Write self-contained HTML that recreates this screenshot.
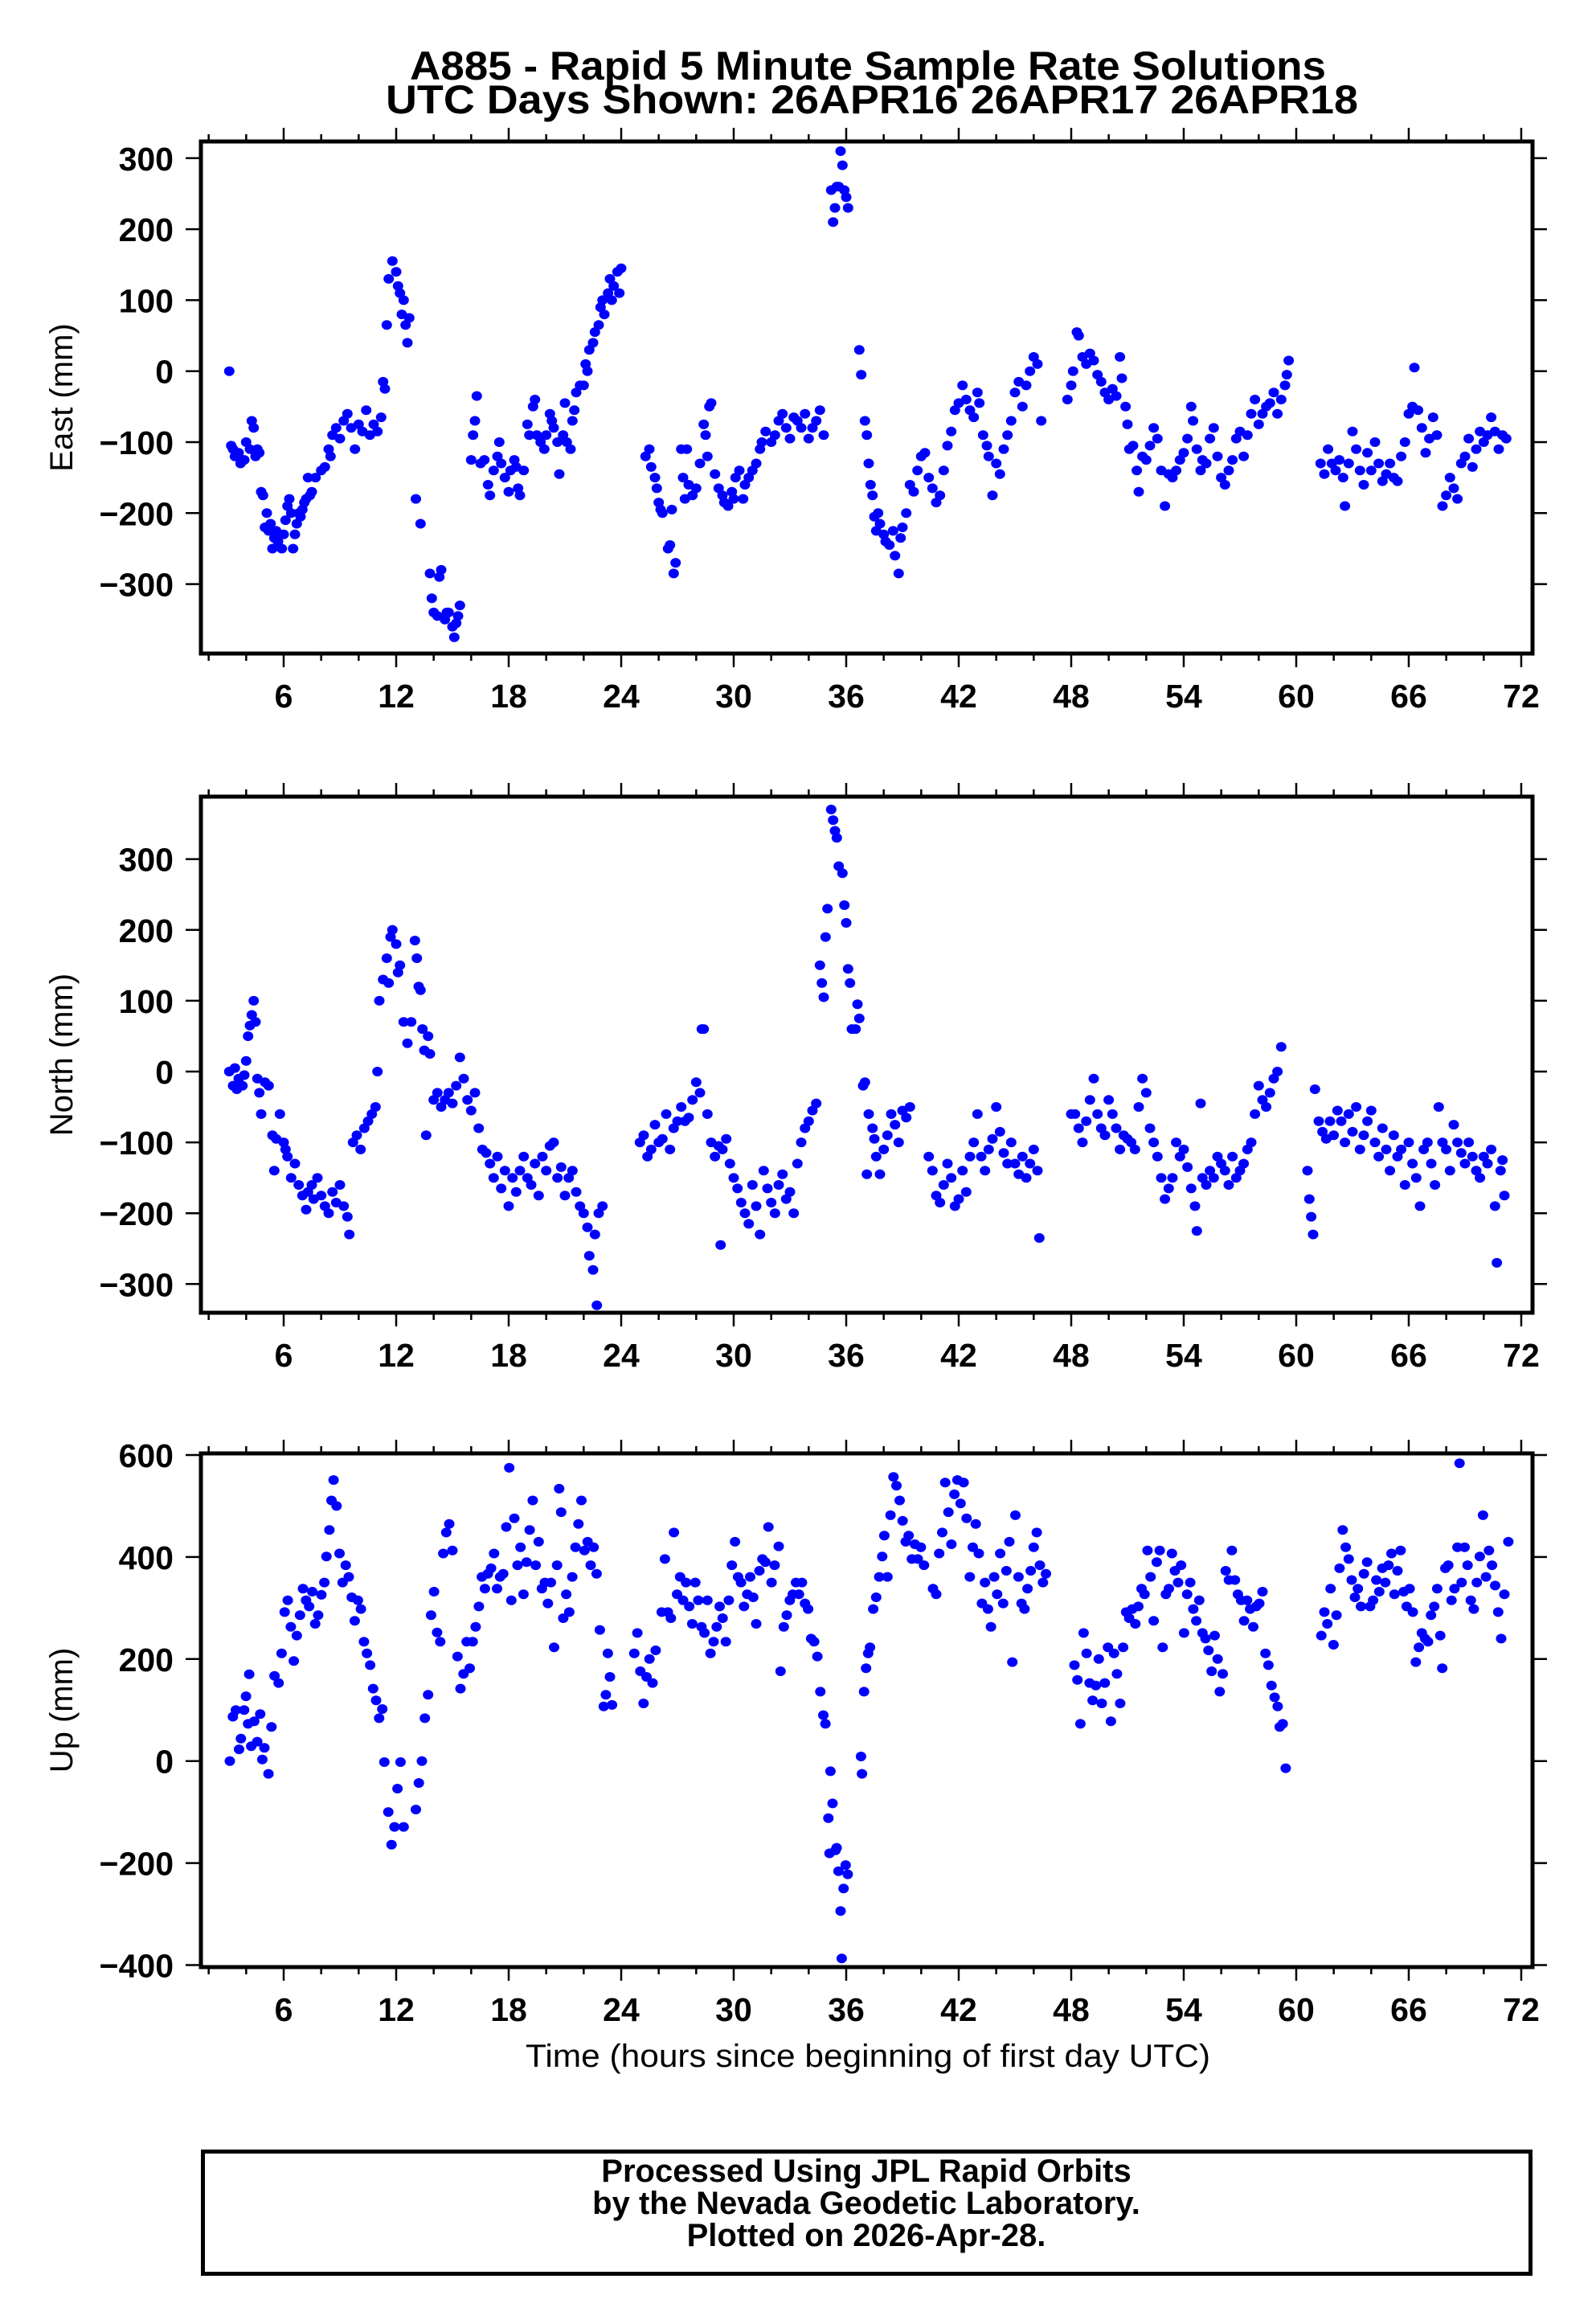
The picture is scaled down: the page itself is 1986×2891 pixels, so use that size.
<!DOCTYPE html>
<html><head><meta charset="utf-8"><style>
html,body{margin:0;padding:0;background:#fff;}
svg{display:block;}
text{font-family:"Liberation Sans",Arial,sans-serif;fill:#000;}
</style></head><body>
<svg id="chart" width="1986" height="2891" viewBox="0 0 1986 2891" xmlns="http://www.w3.org/2000/svg">
<text x="1080" y="99" text-anchor="middle" font-size="50" font-weight="bold" textLength="1140" lengthAdjust="spacingAndGlyphs">A885 - Rapid 5 Minute Sample Rate Solutions</text>
<text x="1085" y="141" text-anchor="middle" font-size="50" font-weight="bold" textLength="1210" lengthAdjust="spacingAndGlyphs">UTC Days Shown:  26APR16 26APR17 26APR18</text>
<g id="plots"></g>
<text x="1080" y="2571" text-anchor="middle" font-size="40" textLength="852" lengthAdjust="spacingAndGlyphs">Time (hours since beginning of first day UTC)</text>
<rect x="252.5" y="2676.5" width="1652" height="152" fill="none" stroke="#000" stroke-width="5"/>
<text x="1078" y="2714" text-anchor="middle" font-size="40" font-weight="bold">Processed Using JPL Rapid Orbits</text>
<text x="1078" y="2754" text-anchor="middle" font-size="40" font-weight="bold">by the Nevada Geodetic Laboratory.</text>
<text x="1078" y="2794" text-anchor="middle" font-size="40" font-weight="bold">Plotted on 2026-Apr-28.</text>
</svg>
<script>
const xTicks = [6,12,18,24,30,36,42,48,54,60,66,72];
const eastTicks = [300,200,100,0,-100,-200,-300];
const northTicks = [300,200,100,0,-100,-200,-300];
const upTicks = [600,400,200,0,-200,-400];

const eastHours = [3.1,3.2,3.3,3.4,3.6,3.7,3.9,4.0,4.2,4.3,4.4,4.5,4.6,4.7,4.8,4.9,5.0,5.1,5.2,5.3,5.4,5.5,5.6,5.7,5.8,5.9,6.0,6.1,6.2,6.3,6.4,6.5,6.6,6.7,6.8,6.9,7.0,7.1,7.2,7.3,7.4,7.5,7.7,8.0,8.2,8.4,8.5,8.6,8.8,9.0,9.2,9.4,9.6,9.8,10.0,10.2,10.4,10.6,10.8,11.0,11.2,11.3,11.4,11.5,11.6,11.8,12.0,12.1,12.2,12.3,12.4,12.5,12.6,12.7,
13.05,13.3,13.8,13.9,14.0,14.2,14.3,14.4,14.6,14.7,14.8,15.0,15.1,15.2,15.3,15.4,
16.0,16.1,16.2,16.3,16.5,16.7,16.9,17.0,17.2,17.4,17.5,17.6,17.8,18.0,18.1,18.3,18.4,18.5,18.6,18.8,19.0,19.1,19.3,19.4,19.5,19.7,19.9,20.0,20.2,20.3,20.4,20.6,20.7,20.9,21.0,21.1,21.3,21.4,21.5,21.6,21.8,22.0,22.1,22.2,22.3,22.5,22.6,22.8,22.9,23.0,23.1,23.3,23.4,23.5,23.6,23.8,23.9,24.0,
25.3,25.5,25.6,25.8,25.9,26.0,26.1,26.2,26.5,26.6,26.7,26.8,26.9,27.2,27.3,27.4,27.5,27.6,27.8,28.0,28.2,28.4,28.5,28.6,28.7,28.8,29.0,29.2,29.4,29.5,29.7,29.9,30.0,30.1,30.3,30.5,30.6,30.8,31.0,31.2,31.4,31.5,31.7,32.0,32.2,32.4,32.6,32.8,33.0,33.2,33.4,33.6,33.8,34.0,34.2,34.4,34.6,34.8,
35.2,35.3,35.4,35.5,35.6,35.7,35.8,35.9,36.0,36.1,
36.7,36.8,37.0,37.1,37.2,37.3,37.4,37.5,37.6,37.7,37.8,38.0,38.1,38.3,38.5,38.6,38.8,38.9,39.0,39.2,39.4,39.6,39.8,40.0,40.2,40.4,40.6,40.8,41.0,41.2,41.4,41.6,41.8,42.0,42.2,42.4,42.6,42.8,43.0,43.1,43.3,43.5,43.6,43.8,44.0,44.2,44.4,44.6,44.8,45.0,45.2,45.4,45.6,45.8,46.0,46.2,46.4,
47.8,48.0,48.1,48.3,48.4,48.6,48.8,49.0,49.2,49.4,49.6,49.8,50.0,50.2,50.4,50.6,50.7,50.9,51.0,51.1,51.3,51.5,51.6,51.8,52.0,52.2,52.4,52.6,52.8,53.0,53.2,53.4,53.6,53.8,54.0,54.2,54.4,54.5,54.7,54.9,55.0,55.2,55.4,55.6,55.8,56.0,56.2,56.4,56.6,56.8,57.0,57.2,57.4,57.6,57.8,58.0,58.2,58.4,58.6,58.8,59.0,59.2,59.4,59.5,59.6,
61.3,61.5,61.7,61.9,62.1,62.3,62.5,62.6,62.8,63.0,63.2,63.4,63.6,63.8,64.0,64.2,64.4,64.6,64.8,65.0,65.2,65.4,65.6,65.8,66.0,66.2,66.3,66.5,66.7,66.9,67.1,67.3,67.5,67.8,68.0,68.2,68.4,68.6,68.8,69.0,69.2,69.4,69.6,69.8,70.0,70.2,70.4,70.6,70.8,71.0,71.2];
const eastMm = [0,-105,-110,-120,-115,-130,-125,-100,-110,-70,-80,-120,-110,-115,-170,-175,-220,-200,-225,-215,-250,-235,-225,-240,-230,-250,-230,-210,-190,-180,-200,-250,-230,-215,-200,-205,-195,-185,-180,-150,-175,-170,-150,-140,-135,-110,-120,-90,-80,-95,-70,-60,-80,-110,-75,-85,-55,-90,-75,-85,-65,-15,-25,65,130,155,140,120,110,80,100,65,40,75,
-180,-215,-285,-320,-340,-345,-290,-280,-350,-340,-340,-360,-375,-355,-345,-330,
-125,-90,-70,-35,-130,-125,-160,-175,-140,-120,-100,-130,-150,-170,-140,-125,-135,-165,-175,-140,-75,-90,-50,-40,-90,-100,-110,-90,-60,-70,-80,-100,-145,-90,-45,-100,-110,-70,-55,-30,-20,-20,10,0,30,40,55,65,90,100,80,110,130,100,120,140,110,145,
-120,-110,-135,-150,-165,-185,-195,-200,-250,-245,-195,-285,-270,-110,-150,-180,-110,-160,-175,-165,-130,-75,-90,-120,-50,-45,-145,-165,-175,-185,-190,-170,-180,-150,-140,-180,-160,-150,-140,-130,-110,-100,-85,-100,-90,-70,-60,-80,-95,-65,-70,-80,-60,-95,-80,-70,-55,-90,
255,210,230,260,260,310,290,255,245,230,
30,-5,-70,-90,-130,-160,-175,-205,-225,-200,-215,-230,-240,-245,-225,-260,-285,-235,-220,-200,-160,-170,-140,-120,-115,-150,-165,-185,-175,-140,-105,-85,-55,-45,-20,-40,-55,-65,-30,-45,-90,-105,-120,-175,-130,-145,-110,-90,-70,-30,-15,-50,-20,0,20,10,-70,
-40,-20,0,55,50,20,10,25,15,-5,-15,-30,-40,-25,-35,20,-10,-50,-75,-110,-105,-140,-170,-120,-125,-105,-80,-95,-140,-190,-145,-150,-140,-125,-115,-95,-50,-70,-110,-140,-125,-130,-95,-80,-120,-150,-160,-140,-125,-95,-85,-120,-90,-60,-40,-75,-60,-50,-45,-30,-60,-40,-20,-5,15,
-130,-145,-110,-130,-140,-125,-150,-190,-130,-85,-110,-140,-160,-115,-140,-100,-130,-155,-145,-130,-150,-155,-120,-100,-60,-50,5,-55,-80,-115,-95,-65,-90,-190,-175,-150,-165,-180,-130,-120,-95,-135,-110,-85,-100,-90,-65,-85,-110,-90,-95];

const northHours = [3.1,3.3,3.4,3.5,3.6,3.8,3.9,4.0,4.1,4.2,4.3,4.4,4.5,4.6,4.7,4.8,5.0,5.2,5.4,5.5,5.6,5.8,6.0,6.1,6.2,6.4,6.6,6.8,7.0,7.2,7.3,7.5,7.6,7.8,8.0,8.2,8.4,8.6,8.8,9.0,9.2,9.4,9.5,9.7,9.9,10.1,10.3,10.5,10.7,10.9,11.0,11.1,11.3,11.5,11.6,11.7,11.8,12.0,12.1,12.2,12.4,12.6,12.8,13.0,13.1,13.2,13.3,13.4,13.5,13.6,13.7,13.8,14.0,14.2,14.4,14.6,14.8,15.0,15.2,15.4,15.6,15.8,16.0,16.2,16.4,16.6,16.8,17.0,17.2,17.4,17.6,17.8,18.0,18.2,18.4,18.6,18.8,19.0,19.2,19.4,19.6,19.8,20.0,20.2,20.4,20.6,20.8,21.0,21.2,21.4,21.6,21.8,22.0,22.2,22.3,22.5,22.6,22.7,22.8,23.0,
25.0,25.2,25.4,25.6,25.8,26.0,26.2,26.4,26.6,26.8,27.0,27.2,27.4,27.6,27.8,28.0,28.2,28.3,28.4,28.6,28.8,29.0,29.2,29.3,29.4,29.6,29.8,30.0,30.2,30.4,30.6,30.8,31.0,31.2,31.4,31.6,31.8,32.0,32.2,32.4,32.6,32.8,33.0,33.2,33.4,33.6,33.8,34.0,34.2,34.4,
34.6,34.7,34.8,34.9,35.0,35.2,35.3,35.4,35.5,35.6,35.8,35.9,36.0,36.1,36.2,36.3,36.5,36.6,36.7,
36.9,37.0,37.1,37.2,37.4,37.5,37.6,37.8,38.0,38.2,38.4,38.6,38.8,39.0,39.2,39.4,40.4,40.6,40.8,41.0,41.2,41.4,41.6,41.8,42.0,42.2,42.4,42.6,42.8,43.0,43.2,43.4,43.6,43.8,44.0,44.2,44.4,44.6,44.8,45.0,45.2,45.4,45.6,45.8,46.0,46.2,46.3,
48.0,48.2,48.4,48.6,48.8,49.0,49.2,49.4,49.6,49.8,50.0,50.2,50.4,50.6,50.8,51.0,51.2,51.4,51.6,51.8,52.0,52.2,52.4,52.6,52.8,53.0,53.2,53.4,53.6,53.8,54.0,54.2,54.4,54.6,54.7,54.9,55.0,55.2,55.4,55.6,55.8,56.0,56.2,56.4,56.6,56.8,57.0,57.2,57.4,57.6,57.8,58.0,58.2,58.4,58.6,58.8,59.0,59.2,
60.6,60.7,60.8,60.9,61.0,61.2,61.4,61.6,61.8,62.0,62.2,62.4,62.6,62.8,63.0,63.2,63.4,63.6,63.8,64.0,64.2,64.4,64.6,64.8,65.0,65.2,65.4,65.6,65.8,66.0,66.2,66.4,66.6,66.8,67.0,67.2,67.4,67.6,67.8,68.0,68.2,68.4,68.6,68.8,69.0,69.2,69.4,69.6,69.8,70.0,70.2,70.4,70.6,70.7,70.9,71.0,71.1];
const northMm = [0,-20,5,-25,-10,-20,-5,15,50,65,80,100,70,-10,-30,-60,-15,-20,-90,-140,-95,-60,-100,-110,-120,-150,-130,-160,-175,-195,-170,-160,-180,-150,-175,-190,-200,-170,-185,-160,-190,-205,-230,-100,-90,-110,-80,-70,-60,-50,0,100,130,160,125,190,200,180,140,150,70,40,70,185,160,120,115,60,30,-90,50,25,-40,-30,-50,-40,-30,-45,-20,20,-10,-40,-55,-30,-80,-110,-115,-130,-150,-120,-165,-140,-190,-150,-170,-140,-120,-150,-160,-130,-175,-120,-140,-105,-100,-150,-135,-175,-150,-140,-170,-190,-200,-220,-260,-280,-230,-330,-200,-190,
-100,-90,-120,-110,-75,-100,-95,-60,-110,-80,-70,-50,-70,-65,-40,-15,-30,60,60,-60,-100,-120,-105,-245,-110,-95,-130,-150,-165,-185,-200,-215,-160,-190,-230,-140,-165,-185,-200,-160,-145,-180,-170,-200,-130,-100,-80,-70,-55,-45,
150,125,105,190,230,370,355,340,330,290,280,235,210,145,125,60,60,95,75,
-20,-15,-145,-60,-80,-95,-120,-145,-110,-90,-60,-75,-100,-55,-65,-50,-120,-140,-175,-185,-160,-130,-150,-190,-180,-140,-170,-120,-100,-60,-120,-140,-110,-95,-50,-85,-115,-130,-100,-130,-145,-120,-150,-130,-110,-140,-235,
-60,-60,-80,-100,-70,-40,-10,-60,-80,-90,-40,-60,-80,-110,-90,-95,-100,-110,-50,-10,-30,-80,-100,-120,-150,-180,-165,-150,-100,-120,-110,-135,-165,-190,-225,-45,-150,-160,-140,-150,-120,-130,-140,-160,-120,-150,-140,-130,-110,-100,-60,-20,-40,-50,-30,-10,0,35,
-140,-180,-205,-230,-25,-70,-85,-95,-70,-90,-55,-70,-100,-60,-85,-50,-110,-90,-70,-55,-100,-120,-80,-110,-140,-90,-120,-110,-160,-100,-130,-150,-190,-110,-100,-130,-160,-50,-100,-110,-140,-75,-100,-115,-130,-100,-120,-140,-150,-120,-130,-110,-190,-270,-140,-125,-175];

const upHours = [3.13,3.29,3.45,3.62,3.72,3.89,3.99,4.16,4.10,4.27,4.43,4.59,4.75,4.86,4.97,5.19,5.35,5.51,5.73,5.89,6.05,6.22,6.38,6.54,6.70,6.87,7.03,7.19,7.36,7.52,7.68,7.84,8.01,8.17,8.28,8.44,8.55,8.66,8.82,8.98,9.14,9.31,9.47,9.63,9.79,9.96,10.12,10.28,10.44,10.61,10.77,10.93,11.09,11.26,11.37,11.58,11.75,11.91,12.07,12.23,12.40,13.05,13.21,13.37,13.53,13.70,13.86,14.02,14.18,14.35,14.51,14.67,14.83,15.00,15.27,15.43,15.59,15.76,15.92,16.08,16.24,16.41,16.57,16.73,16.89,17.06,17.22,17.38,17.54,17.71,17.87,18.03,18.14,18.30,18.47,18.63,18.79,18.95,19.12,19.28,19.44,19.60,19.77,19.93,20.09,20.25,20.42,20.58,20.69,20.80,20.91,21.07,21.23,21.39,21.56,21.72,21.88,22.04,22.21,22.37,22.53,22.69,22.86,23.07,23.18,23.29,23.40,23.51,
24.70,24.86,25.02,25.19,25.35,25.51,25.67,25.84,26.16,26.33,26.49,26.65,26.81,26.98,27.14,27.30,27.46,27.63,27.79,27.95,28.11,28.28,28.44,28.60,28.76,28.93,29.09,29.25,29.41,29.58,29.74,29.90,30.07,30.23,30.39,30.55,30.72,30.88,31.04,31.20,31.37,31.53,31.69,31.85,32.02,32.18,32.40,32.50,32.67,32.83,32.99,33.15,33.32,33.48,33.64,33.80,33.97,34.13,34.29,34.46,34.62,34.78,34.89,35.05,35.16,35.27,35.11,35.43,35.49,35.59,35.70,35.76,35.86,35.97,36.08,
36.79,36.84,36.95,37.06,37.17,37.27,37.44,37.60,37.76,37.92,38.03,38.20,38.36,38.52,38.68,38.85,39.01,39.17,39.33,39.50,39.66,39.82,39.98,40.15,40.63,40.80,40.96,41.12,41.28,41.45,41.61,41.77,41.93,42.10,42.26,42.42,42.59,42.75,42.91,43.07,43.24,43.40,43.56,43.72,43.89,44.05,44.21,44.37,44.54,44.70,44.86,45.02,45.19,45.35,45.51,45.67,45.84,46.00,46.16,46.33,46.49,46.65,
48.17,48.33,48.49,48.66,48.82,48.98,49.14,49.31,49.47,49.63,49.79,49.96,50.12,50.28,50.44,50.61,50.77,50.93,51.09,51.26,51.42,51.58,51.75,51.91,52.07,52.23,52.40,52.56,52.72,52.88,53.05,53.21,53.37,53.53,53.70,53.86,54.02,54.18,54.35,54.51,54.67,54.83,55.00,55.16,55.32,55.49,55.65,55.81,55.92,56.08,56.24,56.41,56.57,56.73,56.89,57.06,57.22,57.38,57.54,57.71,57.87,58.03,58.20,58.36,58.52,58.68,58.85,59.01,59.12,59.28,59.44,
61.34,61.50,61.66,61.83,61.99,62.15,62.31,62.48,62.64,62.80,62.96,63.13,63.29,63.45,63.61,63.78,63.94,64.10,64.27,64.43,64.59,64.75,64.92,65.08,65.24,65.40,65.57,65.73,65.89,66.05,66.22,66.38,66.54,66.70,66.87,67.03,67.19,67.36,67.52,67.68,67.79,67.95,68.11,68.28,68.44,68.60,68.71,68.82,68.98,69.14,69.31,69.47,69.63,69.79,69.96,70.12,70.28,70.44,70.61,70.77,70.93,71.10,71.31];
const upMm = [0,87,100,23,44,100,127,170,73,29,78,38,92,3,26,-25,67,167,153,211,292,315,263,196,246,286,338,315,303,332,269,286,326,350,401,453,511,551,500,407,350,384,361,321,275,315,298,234,211,188,142,119,84,102,-2,-100,-164,-129,-54,-2,-129,-95,-43,0,84,130,286,332,252,234,407,448,465,413,205,142,171,234,182,234,263,303,361,338,367,378,407,338,361,367,459,575,315,476,384,419,327,390,453,511,384,430,338,350,309,350,223,384,534,488,280,327,292,361,419,465,511,413,430,384,419,367,257,107,130,211,165,110,
211,251,176,113,165,200,153,217,292,396,292,280,448,327,361,315,350,303,269,350,315,263,251,315,211,234,263,303,280,234,315,384,430,361,350,303,327,361,321,269,373,396,390,459,350,384,421,176,263,286,315,327,350,327,350,309,298,240,234,205,136,90,73,-112,-20,-83,-181,-175,-170,-216,-294,-387,-250,-204,-222,
9,-25,136,182,211,223,298,321,361,401,442,361,482,557,540,511,471,430,442,396,425,396,419,384,338,327,407,448,546,488,425,523,551,505,546,476,361,419,465,407,309,350,298,263,361,327,407,309,373,430,194,482,361,309,298,338,373,419,448,384,350,367,
188,159,73,251,211,153,119,148,200,113,153,223,78,211,171,113,223,292,280,298,269,303,338,327,413,361,275,390,413,223,327,338,407,373,350,384,251,327,350,298,275,315,251,240,217,176,246,200,136,171,373,355,413,355,327,315,275,315,298,263,303,309,332,211,188,148,125,107,67,73,-14,
246,292,269,338,228,286,378,453,419,396,355,321,338,303,367,390,303,315,355,332,378,350,384,407,327,373,413,332,303,338,292,194,223,251,240,234,286,303,338,246,182,378,384,315,338,419,584,350,419,384,315,298,350,401,482,361,413,384,344,292,240,327,430];

const X0 = 213, XS = 23.333;
const xOf = h => X0 + XS * h;
const L = 250, R = 1907;
const panels = [
  {key:'east', title:'East (mm)', top:176, bottom:813, zero:461.7, scale:0.883, ticks:eastTicks, hours:eastHours, vals:eastMm, labelY:880},
  {key:'north', title:'North (mm)', top:991, bottom:1633, zero:1333, scale:0.881, ticks:northTicks, hours:northHours, vals:northMm, labelY:1700},
  {key:'up', title:'Up (mm)', top:1808, bottom:2447, zero:2190.7, scale:0.6345, ticks:upTicks, hours:upHours, vals:upMm, labelY:2514}
];
const NS = 'http://www.w3.org/2000/svg';
const root = document.getElementById('plots');
function mk(tag, attrs, parent) {
  const el = document.createElementNS(NS, tag);
  for (const k in attrs) el.setAttribute(k, attrs[k]);
  parent.appendChild(el);
  return el;
}
const fmt = v => v < 0 ? '\u2212' + Math.abs(v) : String(v);

panels.forEach(p => {
  const yOf = v => p.zero - v * p.scale;
  const g = mk('g', {}, root);
  
  
  const pts = mk('g', {fill:'#0000ff'}, g);
  
  
  for (let i = 0; i < p.hours.length; i++) {
    const c = mk('ellipse', {cx: xOf(p.hours[i]).toFixed(1), cy: yOf(p.vals[i]).toFixed(1), rx: 6.5, ry: 6}, pts);
    
    
  }
  const tg = mk('g', {stroke:'#000', 'stroke-width':2.5}, g);
  
  
  for (let h = 2; h <= 72; h += 2) {
    const x = xOf(h), len = (h % 6 === 0) ? 17 : 9;
    mk('line', {x1:x, x2:x, y1:p.top, y2:p.top - len}, tg);
    mk('line', {x1:x, x2:x, y1:p.bottom, y2:p.bottom + len}, tg);
  }
  p.ticks.forEach(v => {
    const y = yOf(v);
    mk('line', {x1:231, x2:L, y1:y, y2:y}, tg);
    mk('line', {x1:R, x2:R + 18, y1:y, y2:y}, tg);
    const t = mk('text', {x:216, y:y + 15, 'text-anchor':'end', 'font-size':41, 'font-weight':'bold'}, g);
    
    
    t.textContent = fmt(v);
  });
  xTicks.forEach(h => {
    const t = mk('text', {x:xOf(h), y:p.labelY, 'text-anchor':'middle', 'font-size':41, 'font-weight':'bold'}, g);
    
    
    t.textContent = String(h);
  });
  const fr = mk('rect', {x:L, y:p.top, width:R - L, height:p.bottom - p.top, fill:'none', stroke:'#000', 'stroke-width':5}, g);
  
  
  const cy = (p.top + p.bottom) / 2;
  const yt = mk('text', {x:0, y:0, 'text-anchor':'middle', 'font-size':40, transform:'translate(90,' + cy + ') rotate(-90)'}, g);
  
  
  yt.textContent = p.title;
});
</script>
</body></html>
